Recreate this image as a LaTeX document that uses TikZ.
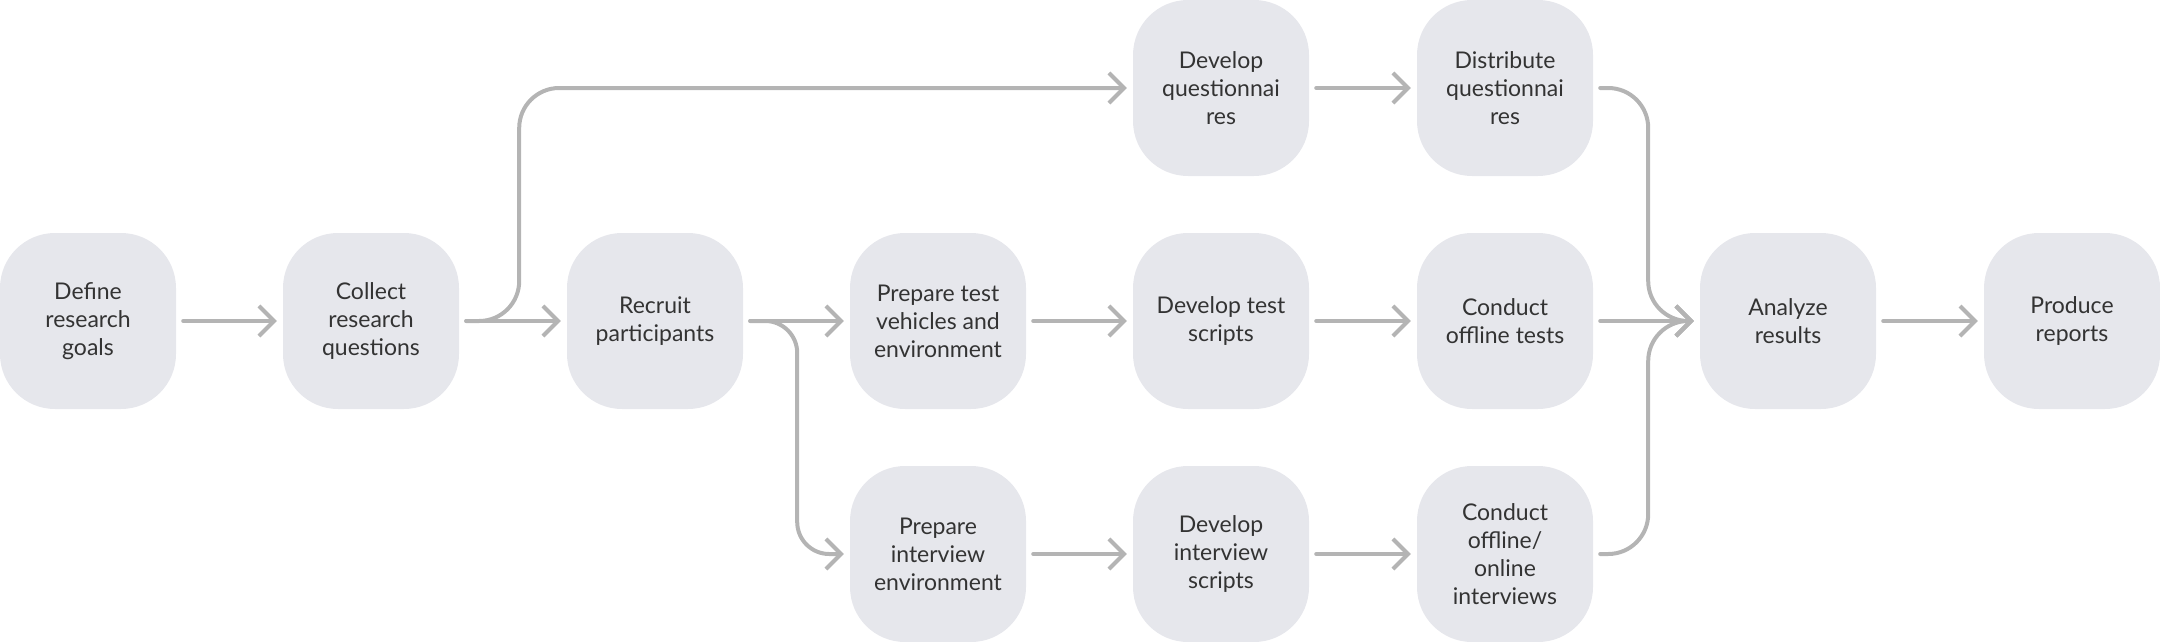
\documentclass[tikz,border=0pt]{standalone}
\usepackage{fontspec}
\setmainfont{Lato}
\usetikzlibrary{arrows.meta}
\definecolor{boxfill}{HTML}{E6E7EC}
\definecolor{linec}{HTML}{B4B4B4}
\definecolor{txt}{HTML}{333333}
\begin{document}
\begin{tikzpicture}[x=1pt,y=-1pt,
  proc/.style={draw=none, fill=boxfill, rounded corners=55pt, minimum width=176pt,
    minimum height=176pt, inner sep=0pt, align=center, text=txt,
    font=\fontsize{23}{28}\selectfont},
  conn/.style={draw=linec, line width=4pt, line cap=round,
    -{Straight Barb[length=15pt,width=30pt]}, rounded corners=40pt}]
\useasboundingbox (0,0) rectangle (2160,642);
% middle row
\node[proc] (m1) at (88,321) {Define\\research\\goals};
\node[proc] (m2) at (371,321) {Collect\\research\\questions};
\node[proc] (m3) at (655,321) {Recruit\\participants};
\node[proc] (m4) at (938,321) {Prepare test\\vehicles and\\environment};
\node[proc] (m5) at (1221,321) {Develop test\\scripts};
\node[proc] (m6) at (1505,321) {Conduct\\offline tests};
\node[proc] (m7) at (1788,321) {Analyze\\results};
\node[proc] (m8) at (2072,321) {Produce\\reports};
% top row
\node[proc] (t5) at (1221,88) {Develop\\questionnai\\res};
\node[proc] (t6) at (1505,88) {Distribute\\questionnai\\res};
% bottom row
\node[proc] (b4) at (938,554) {Prepare\\interview\\environment};
\node[proc] (b5) at (1221,554) {Develop\\interview\\scripts};
\node[proc] (b6) at (1505,554) {Conduct\\offline/\\online\\interviews};
% connectors
\draw[conn] ([xshift=7pt]m1.east) -- ([xshift=-6pt]m2.west);
\draw[conn] ([xshift=7pt]m2.east) -- ([xshift=-6pt]m3.west);
\draw[conn] ([xshift=7pt]m2.east) -- ++(53,0) |- ([xshift=-6pt]t5.west);
\draw[conn] ([xshift=7pt]m3.east) -- ([xshift=-6pt]m4.west);
\draw[conn, rounded corners=32pt] ([xshift=7pt]m3.east) -- ++(47,0) |- ([xshift=-6pt]b4.west);
\draw[conn] ([xshift=7pt]m4.east) -- ([xshift=-6pt]m5.west);
\draw[conn] ([xshift=7pt]m5.east) -- ([xshift=-6pt]m6.west);
\draw[conn] ([xshift=7pt]t5.east) -- ([xshift=-6pt]t6.west);
\draw[conn] ([xshift=7pt]b4.east) -- ([xshift=-6pt]b5.west);
\draw[conn] ([xshift=7pt]b5.east) -- ([xshift=-6pt]b6.west);
\draw[conn] ([xshift=7pt]m6.east) -- ([xshift=-6pt]m7.west);
\draw[conn] ([xshift=7pt]t6.east) -- ++(48,0) |- ([xshift=-6pt]m7.west);
\draw[conn] ([xshift=7pt]b6.east) -- ++(48,0) |- ([xshift=-6pt]m7.west);
\draw[conn] ([xshift=7pt]m7.east) -- ([xshift=-6pt]m8.west);
\end{tikzpicture}
\end{document}
